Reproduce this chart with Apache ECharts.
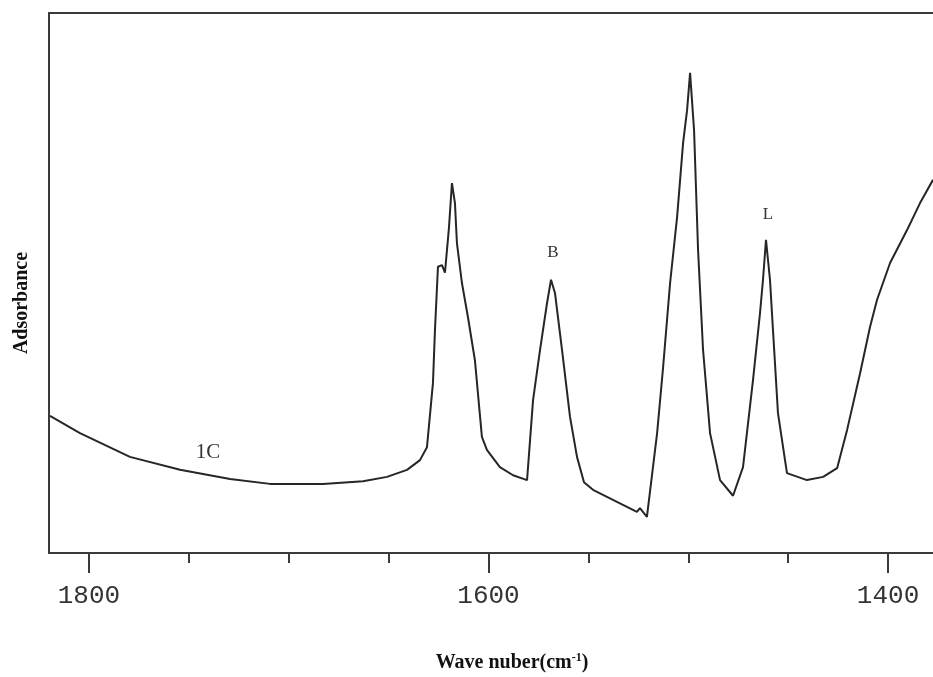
<!DOCTYPE html>
<html>
<head>
<meta charset="utf-8">
<script src="https://cdn.jsdelivr.net/npm/echarts@6/dist/echarts.min.js"></script>
<style>html,body{margin:0;padding:0;background:#fff}#c{width:933px;height:677px}</style>
</head>
<body>
<div id="c"></div>
<script>
// Wave number (cm-1)
const wavenumber = [1819.5,1804.5,1779.5,1754.4,1729.4,1709.4,1682.9,1662.8,1650.8,1640.8,1634.3,1630.8,1627.8,1626.8,1625.3,1623.3,1621.8,1619.8,1618.3,1616.8,1615.8,1613.3,1610.3,1606.8,1603.3,1600.8,1594.3,1587.7,1580.7,1577.7,1574.2,1570.7,1568.7,1566.7,1563.2,1559.2,1555.7,1552.2,1547.7,1525.7,1524.2,1520.7,1515.6,1512.6,1509.1,1505.6,1502.6,1500.6,1499.1,1497.1,1495.1,1492.6,1489.1,1484.1,1477.6,1472.6,1467.6,1464.1,1462.6,1461.1,1459.1,1457.6,1455.1,1450.6,1440.6,1432.5,1425.5,1420.5,1414.0,1409.0,1405.5,1399.0,1390.5,1384.0,1377.5];
// Absorbance (arbitrary units)
const absorbance = [0.254,0.222,0.178,0.154,0.137,0.128,0.128,0.133,0.141,0.154,0.172,0.196,0.315,0.413,0.530,0.533,0.519,0.602,0.685,0.648,0.574,0.500,0.437,0.357,0.215,0.191,0.159,0.144,0.135,0.283,0.376,0.463,0.506,0.481,0.376,0.252,0.178,0.131,0.117,0.076,0.083,0.067,0.222,0.344,0.500,0.622,0.759,0.820,0.889,0.783,0.561,0.376,0.222,0.135,0.106,0.159,0.320,0.444,0.506,0.580,0.506,0.413,0.259,0.148,0.135,0.141,0.157,0.228,0.333,0.419,0.469,0.537,0.598,0.648,0.691];
const majorTicks = [1400, 1600, 1800];
const minorTicks = [1450, 1500, 1550, 1650, 1700, 1750];
const annotations = [
  {text: '1C', wn: 1740.4, a: 0.187, size: 21},
  {text: 'B', wn: 1567.7, a: 0.557, size: 17},
  {text: 'L', wn: 1460.1, a: 0.626, size: 17}
];
const xMin = 1377.5, xMax = 1820;

const points = wavenumber.map((w, i) => [w, absorbance[i]]);
const chart = echarts.init(document.getElementById('c'), null, {renderer: 'canvas'});
const lineCol = '#3a3a3a';
chart.setOption({
  backgroundColor: '#ffffff',
  animation: false,
  grid: {left: 49, top: 13, right: 0, bottom: 124, containLabel: false, outerBoundsMode: 'none'},
  xAxis: [
    {
      type: 'value', position: 'bottom', inverse: true, min: xMin, max: xMax,
      axisLine: {show: true, lineStyle: {color: lineCol, width: 2}},
      axisTick: {show: true, customValues: majorTicks, length: 20, lineStyle: {color: lineCol, width: 2}},
      axisLabel: {show: true, customValues: majorTicks, margin: 30, color: '#333',
        fontFamily: 'Liberation Mono', fontSize: 26, formatter: v => String(v)},
      splitLine: {show: false},
      name: 'Wave nuber(cm{sup|-1})',
      nameLocation: 'middle', nameGap: 99,
      nameTextStyle: {fontFamily: 'Liberation Serif', fontWeight: 'bold', fontSize: 20, color: '#111',
        padding: [0, 0, 0, 42],
        rich: {sup: {fontFamily: 'Liberation Serif', fontWeight: 'bold', fontSize: 12, color: '#111', padding: [0, 0, 10, 0]}}}
    },
    {
      type: 'value', position: 'bottom', inverse: true, min: xMin, max: xMax,
      axisLine: {show: false},
      axisTick: {show: true, customValues: minorTicks, length: 10, lineStyle: {color: lineCol, width: 2}},
      axisLabel: {show: false},
      splitLine: {show: false}
    },
    {
      type: 'value', position: 'top', inverse: true, min: xMin, max: xMax,
      axisLine: {show: true, lineStyle: {color: lineCol, width: 2}},
      axisTick: {show: false}, axisLabel: {show: false}, splitLine: {show: false}
    }
  ],
  yAxis: {
    type: 'value', min: 0, max: 1,
    axisLine: {show: true, lineStyle: {color: lineCol, width: 2}},
    axisTick: {show: false}, axisLabel: {show: false}, splitLine: {show: false},
    name: 'Adsorbance', nameLocation: 'middle', nameGap: 17, nameRotate: 90,
    nameTextStyle: {fontFamily: 'Liberation Serif', fontWeight: 'bold', fontSize: 20, color: '#111',
      padding: [0, 40, 0, 0]}
  },
  series: [{
    type: 'line', xAxisIndex: 0, data: points, showSymbol: false, symbol: 'none',
    lineStyle: {color: '#262626', width: 2}, smooth: false,
    markPoint: {
      symbol: 'circle', symbolSize: 0,
      data: annotations.map(a => ({
        coord: [a.wn, a.a], value: a.text,
        label: {show: true, position: 'inside', formatter: a.text, color: '#333',
          fontFamily: 'Liberation Serif', fontSize: a.size}
      }))
    }
  }]
});
</script>
</body>
</html>
